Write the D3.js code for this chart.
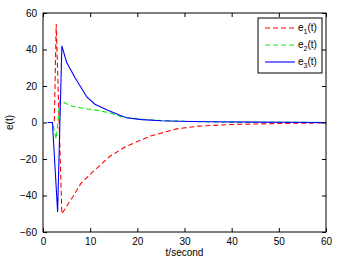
<!DOCTYPE html>
<html><head><meta charset="utf-8">
<script src="https://cdn.jsdelivr.net/npm/d3@7"></script>
<style>body{margin:0;background:#fff}svg{display:block;font-family:"Liberation Sans",Arial,sans-serif}</style>
</head><body><svg id="c" width="340" height="263"></svg>
<script>
const xTicks = [0,10,20,30,40,50,60];
const yTicks = [-60,-40,-20,0,20,40,60];
const e1T = [1,2.4,2.8,4,6.4,8,10.7,14.2,17.7,22.7,28.3,33,40,51,60];
const e1V = [0,0,54,-50,-40.4,-33.5,-26.7,-18.5,-13,-7.5,-3.5,-2,-1.1,-0.5,-0.2];
const e2T = [1,2,2.8,3.6,4,5.7,8,10.7,14.2,16.7,19.9,24,30,40,60];
const e2V = [0,0,-9,12,11.5,9.3,8,7,5.3,3.1,2,1.2,0.6,0.2,0];
const e3T = [1,2,3.1,4,5,6.8,9.3,11,13.5,16.3,17.7,21,25,29,35,45,60];
const e3V = [0,0,-49,42,33,24.5,14,10,7,4,2.6,1.6,1,0.7,0.4,0.2,0];
const seriesNames = ["e1","e2","e3"];

const svg = d3.select("#c");
const L=43,R=326,T=13,B=232;
const x = d3.scaleLinear().domain([0,60]).range([L,R]);
const y = d3.scaleLinear().domain([-60,60]).range([B,T]);

const series = [
  {t:e1T,v:e1V,color:"#ff0000",dash:"5,3"},
  {t:e2T,v:e2V,color:"#00ee00",dash:"5,3"},
  {t:e3T,v:e3V,color:"#0000ff",dash:null}
];
const line = d3.line().x(d=>x(d[0])).y(d=>y(d[1]));
series.forEach(s=>{
  const pts = s.t.map((t,i)=>[t,s.v[i]]);
  svg.append("path").attr("d",line(pts)).attr("fill","none")
    .attr("stroke",s.color).attr("stroke-width",1.1)
    .attr("stroke-dasharray",s.dash);
});

// axes
const fs = 10;
svg.append("g").attr("transform",`translate(0,${B})`)
  .call(d3.axisBottom(x).tickValues(xTicks).tickSize(-4).tickPadding(6))
  .call(g=>{g.select(".domain").remove();g.selectAll("text").attr("font-size",fs).attr("fill","#000").attr("font-family","Liberation Sans, Arial");});
svg.append("g").attr("transform",`translate(0,${T})`)
  .call(d3.axisTop(x).tickValues(xTicks).tickSize(-4).tickFormat(""))
  .call(g=>g.select(".domain").remove());
svg.append("g").attr("transform",`translate(${L},0)`)
  .call(d3.axisLeft(y).tickValues(yTicks).tickSize(-4).tickPadding(6).tickFormat(d=>d<0?"\u2212"+Math.abs(d):d))
  .call(g=>{g.select(".domain").remove();g.selectAll("text").attr("font-size",fs).attr("fill","#000").attr("font-family","Liberation Sans, Arial");});
svg.append("g").attr("transform",`translate(${R},0)`)
  .call(d3.axisRight(y).tickValues(yTicks).tickSize(-4).tickFormat(""))
  .call(g=>g.select(".domain").remove());
svg.append("rect").attr("x",L).attr("y",T).attr("width",R-L).attr("height",B-T)
  .attr("fill","none").attr("stroke","#000").attr("stroke-width",1);

svg.append("text").attr("x",(L+R)/2).attr("y",256).attr("text-anchor","middle")
  .attr("font-size",fs).text("t/second");
svg.append("text").attr("transform",`translate(13,${(T+B)/2}) rotate(-90)`).attr("text-anchor","middle")
  .attr("font-size",fs).text("e(t)");

// legend
const lg = svg.append("g");
lg.append("rect").attr("x",258).attr("y",18).attr("width",64).attr("height",55)
  .attr("fill","#fff").attr("stroke","#000").attr("stroke-width",1);
const ly = [28,45,62];
series.forEach((s,i)=>{
  lg.append("line").attr("x1",265).attr("x2",295).attr("y1",ly[i]).attr("y2",ly[i])
    .attr("stroke",s.color).attr("stroke-width",1.1).attr("stroke-dasharray",s.dash);
  const tx = lg.append("text").attr("x",298).attr("y",ly[i]+3).attr("font-size",10);
  tx.append("tspan").text("e");
  tx.append("tspan").attr("font-size",7).attr("dy",3).text(String(i+1));
  tx.append("tspan").attr("dy",-3).text("(t)");
});
</script></body></html>
